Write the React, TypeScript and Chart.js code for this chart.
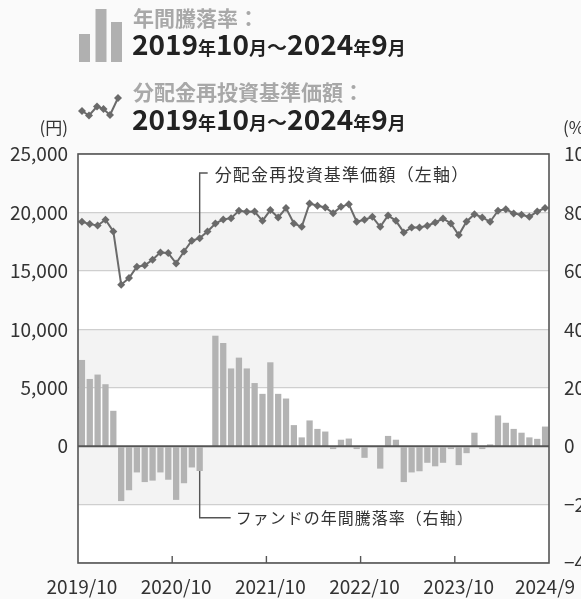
import React, { useEffect, useRef } from "react";
import { Chart, registerables } from "chart.js";

Chart.register(...registerables);

const FONT = '"Noto Sans CJK JP", "Noto Sans", sans-serif';

// 60 monthly categories: 2019/10 … 2024/9
const months: string[] = [];
for (let i = 0; i < 60; i++) {
  const m = ((9 + i) % 12) + 1;
  const y = 2019 + Math.floor((9 + i) / 12);
  months.push(`${y}/${m}`);
}

const xTickLabels = ["2019/10", "2020/10", "2021/10", "2022/10", "2023/10", "2024/9"];
const xTickMarks = ["2020/10", "2021/10", "2022/10", "2023/10"];

// 分配金再投資基準価額 (円, left axis)
const navValues = [
  19200, 19000, 18880, 19370, 18370, 13820, 14390, 15360, 15470, 15950,
  16580, 16520, 15640, 16660, 17580, 17800, 18370, 19050, 19400, 19510,
  20140, 20050, 20080, 19280, 20200, 19570, 20370, 19050, 18770, 20760,
  20570, 20420, 19940, 20480, 20710, 19200, 19370, 19620, 18770, 19740,
  19280, 18290, 18720, 18720, 18860, 19140, 19480, 19050, 18060, 19230,
  19850, 19570, 19200, 20140, 20280, 19910, 19800, 19620, 20080, 20370,
];

// ファンドの年間騰落率 (%, right axis)
const returns = [
  29.5, 23.0, 24.5, 21.2, 12.1, -18.8, -15.1, -9.0, -12.3, -11.8,
  -9.0, -11.5, -18.4, -12.7, -7.3, -8.5, 0, 37.8, 35.3, 26.6,
  30.3, 26.6, 21.6, 17.9, 28.7, 17.9, 16.3, 7.2, 3.0, 8.8,
  5.9, 5.0, -1.0, 2.2, 2.6, -1.0, -4.0, 0, -7.7, 3.5,
  2.2, -12.3, -9.0, -8.6, -5.7, -6.9, -5.7, -1.0, -6.5, -2.4,
  4.6, -1.0, 0.6, 10.5, 8.0, 5.9, 4.6, 3.0, 2.5, 6.7,
];

const leftTicks = { min: -10000, max: 25000, step: 5000 };
const rightTicks = { min: -40, max: 100, step: 20 };
const shadedBands: [number, number][] = [
  [15000, 20000],
  [5000, 10000],
  [-5000, 0],
];

const annotationIndex = 15;
const navNote = "分配金再投資基準価額（左軸）";
const retNote = "ファンドの年間騰落率（右軸）";
const legendBarTitle = "年間騰落率：";
const legendLineTitle = "分配金再投資基準価額：";
const periodRuns: [string, "big" | "small" | "tilde"][] = [
  ["2019", "big"], ["年", "small"], ["10", "big"], ["月", "small"], ["～", "tilde"],
  ["2024", "big"], ["年", "small"], ["9", "big"], ["月", "small"],
];

function drawRuns(ctx: CanvasRenderingContext2D, x: number, y: number) {
  const fonts = {
    big: `bold 28px ${FONT}`,
    small: `bold 18px ${FONT}`,
    tilde: `bold 20px ${FONT}`,
  };
  ctx.fillStyle = "#222";
  ctx.textAlign = "left";
  ctx.textBaseline = "alphabetic";
  let cx = x;
  for (const [t, k] of periodRuns) {
    ctx.font = fonts[k];
    ctx.fillText(t, cx, y);
    cx += ctx.measureText(t).width;
  }
}

function diamond(ctx: CanvasRenderingContext2D, x: number, y: number, r: number) {
  ctx.beginPath();
  ctx.moveTo(x, y - r);
  ctx.lineTo(x + r, y);
  ctx.lineTo(x, y + r);
  ctx.lineTo(x - r, y);
  ctx.closePath();
  ctx.fill();
}

const decor = {
  id: "decor",
  beforeDraw(chart: any) {
    const { ctx, chartArea: a, scales } = chart;
    ctx.save();
    ctx.fillStyle = "#fafafa";
    ctx.fillRect(0, 0, chart.width, chart.height);
    ctx.fillStyle = "#ffffff";
    ctx.fillRect(a.left, a.top, a.right - a.left, a.bottom - a.top);
    ctx.fillStyle = "#f3f3f3";
    for (const [lo, hi] of shadedBands) {
      const t = scales.y.getPixelForValue(hi);
      const b = scales.y.getPixelForValue(lo);
      ctx.fillRect(a.left, t, a.right - a.left, b - t);
    }
    ctx.restore();
  },
  afterDraw(chart: any) {
    const { ctx, chartArea: a, scales } = chart;
    const xs = scales.x, ys = scales.y, y1 = scales.y1;
    ctx.save();
    ctx.strokeStyle = "#555";
    ctx.lineWidth = 1.6;
    // zero line
    const z = ys.getPixelForValue(0);
    ctx.beginPath();
    ctx.moveTo(a.left, z);
    ctx.lineTo(a.right, z);
    ctx.stroke();
    // frame
    ctx.strokeRect(a.left, a.top, a.right - a.left, a.bottom - a.top);
    // x tick marks at year boundaries
    ctx.lineWidth = 1.4;
    for (const lab of xTickMarks) {
      const i = months.indexOf(lab);
      const px = (xs.getPixelForValue(i - 1) + xs.getPixelForValue(i)) / 2;
      ctx.beginPath();
      ctx.moveTo(px, a.bottom - 7);
      ctx.lineTo(px, a.bottom);
      ctx.stroke();
    }
    // annotations
    const ax = xs.getPixelForValue(annotationIndex);
    const ty = a.top + 19;
    ctx.beginPath();
    ctx.moveTo(ax, ys.getPixelForValue(navValues[annotationIndex]) - 5);
    ctx.lineTo(ax, ty);
    ctx.lineTo(ax + 8, ty);
    ctx.stroke();
    ctx.fillStyle = "#333";
    ctx.textBaseline = "middle";
    ctx.textAlign = "left";
    ctx.font = `17px ${FONT}`;
    (ctx as any).letterSpacing = "1.2px";
    ctx.fillText(navNote, ax + 15, ty + 2);

    const by = y1.getPixelForValue(-24.5);
    ctx.beginPath();
    ctx.moveTo(ax, y1.getPixelForValue(returns[annotationIndex]));
    ctx.lineTo(ax, by);
    ctx.lineTo(ax + 31, by);
    ctx.stroke();
    ctx.font = `16px ${FONT}`;
    (ctx as any).letterSpacing = "1px";
    ctx.fillText(retNote, ax + 36, by);
    (ctx as any).letterSpacing = "0px";

    // unit labels
    ctx.textBaseline = "alphabetic";
    ctx.font = `17px ${FONT}`;
    ctx.textAlign = "right";
    ctx.fillText("(円)", a.left - 10, a.top - 20);
    ctx.textAlign = "left";
    ctx.fillText("(%)", a.right + 14, a.top - 20);

    // legend: bar icon
    ctx.fillStyle = "#b0b0b0";
    ctx.fillRect(79, 34, 11, 28);
    ctx.fillRect(95.5, 9, 11, 53);
    ctx.fillRect(111, 22, 11, 40);
    ctx.font = `bold 21px ${FONT}`;
    ctx.fillStyle = "#a8a8a8";
    ctx.fillText(legendBarTitle, 133, 26);
    drawRuns(ctx, 132, 55);

    // legend: line icon
    const pts = [[82, 111], [89, 115.5], [97, 106.5], [103.5, 109], [110, 115], [118, 98]];
    ctx.strokeStyle = "#6a6a6a";
    ctx.fillStyle = "#6a6a6a";
    ctx.lineWidth = 2;
    ctx.beginPath();
    pts.forEach(([px, py], k) => (k ? ctx.lineTo(px, py) : ctx.moveTo(px, py)));
    ctx.stroke();
    for (const [px, py] of pts) diamond(ctx, px, py, 4);
    ctx.font = `bold 21px ${FONT}`;
    ctx.fillStyle = "#a8a8a8";
    ctx.fillText(legendLineTitle, 133, 100);
    drawRuns(ctx, 132, 130);
    ctx.restore();
  },
};

export default function App() {
  const ref = useRef<HTMLCanvasElement>(null);
  useEffect(() => {
    const tickFont = { family: FONT, size: 19 };
    const chart = new Chart(ref.current as HTMLCanvasElement, {
      data: {
        labels: months,
        datasets: [
          {
            type: "line",
            label: "分配金再投資基準価額",
            data: navValues,
            yAxisID: "y",
            borderColor: "#6a6a6a",
            backgroundColor: "#6a6a6a",
            pointBackgroundColor: "#6a6a6a",
            pointBorderWidth: 0,
            borderWidth: 2,
            pointStyle: "rectRot",
            pointRadius: 4,
            tension: 0,
            order: 0,
          },
          {
            type: "bar",
            label: "年間騰落率",
            data: returns,
            yAxisID: "y1",
            backgroundColor: "#b3b3b3",
            barPercentage: 0.8,
            categoryPercentage: 1,
            order: 1,
          },
        ],
      } as any,
      options: {
        responsive: false,
        animation: false,
        layout: { padding: { top: 154, left: 0, right: 0, bottom: 0 } },
        plugins: { legend: { display: false }, tooltip: { enabled: false } },
        scales: {
          x: {
            type: "category",
            offset: true,
            grid: { display: false, drawTicks: false },
            border: { display: false },
            ticks: {
              autoSkip: false,
              maxRotation: 0,
              minRotation: 0,
              padding: 12,
              color: "#333",
              font: tickFont,
              callback: (_v: any, i: number) => (xTickLabels.includes(months[i]) ? months[i] : ""),
            },
            afterFit: (s: any) => {
              s.height = 36;
              s.paddingLeft = 0;
              s.paddingRight = 0;
            },
          },
          y: {
            position: "left",
            min: leftTicks.min,
            max: leftTicks.max,
            ticks: {
              stepSize: leftTicks.step,
              padding: 10,
              color: "#333",
              font: tickFont,
              callback: (v: any) => (v < 0 ? "" : Number(v).toLocaleString("en-US")),
            },
            grid: {
              drawTicks: false,
              color: (c: any) => (c.tick && c.tick.value === 0 ? "#555" : "#cfcfcf"),
              lineWidth: 1.2,
            },
            border: { display: false },
            afterFit: (s: any) => {
              s.width = 78;
              s.paddingTop = 0;
              s.paddingBottom = 0;
            },
          },
          y1: {
            position: "right",
            min: rightTicks.min,
            max: rightTicks.max,
            ticks: {
              stepSize: rightTicks.step,
              padding: 15,
              color: "#333",
              font: tickFont,
              callback: (v: any) => (v < 0 ? "−" + Math.abs(v) : String(v)),
            },
            grid: { display: false, drawTicks: false },
            border: { display: false },
            afterFit: (s: any) => {
              s.width = 32;
              s.paddingTop = 0;
              s.paddingBottom = 0;
            },
          },
        },
      } as any,
      plugins: [decor],
    });
    return () => chart.destroy();
  }, []);

  return (
    <div style={{ position: "fixed", left: 0, top: 0, width: 581, height: 599, overflow: "hidden", background: "#fafafa" }}>
      <canvas ref={ref} width={581} height={599} style={{ display: "block", width: 581, height: 599 }} />
    </div>
  );
}
